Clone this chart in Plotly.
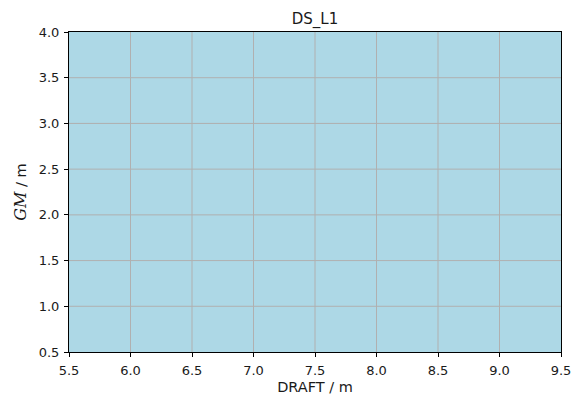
import plotly.graph_objects as go

# ---- data ----
title_text = "DS_L1"
draft = [5.5, 9.5]
gm_lower = [0.5, 0.5]
gm_upper = [4.0, 4.0]
x_ticks = [5.5, 6.0, 6.5, 7.0, 7.5, 8.0, 8.5, 9.0, 9.5]
y_ticks = [0.5, 1.0, 1.5, 2.0, 2.5, 3.0, 3.5, 4.0]
x_label = "DRAFT / m"
y_label = "<span style='font-family:DejaVu Serif;font-size:16px'><i>GM</i></span> / m"

FONT = "DejaVu Sans, sans-serif"
TXT = "#1a1a1a"
GRID = "#b0b0b0"
FILL = "#add8e6"

fig = go.Figure()
fig.add_trace(go.Scatter(x=draft, y=gm_lower, mode="lines", line=dict(width=0),
                         showlegend=False, hoverinfo="skip"))
fig.add_trace(go.Scatter(x=draft, y=gm_upper, mode="lines", line=dict(width=0),
                         fill="tonexty", fillcolor=FILL, showlegend=False, hoverinfo="skip"))

xr = [x_ticks[0], x_ticks[-1]]
yr = [y_ticks[0], y_ticks[-1]]

shapes = []
for v in x_ticks[1:-1]:
    shapes.append(dict(type="line", xref="x", yref="paper", x0=v, x1=v, y0=0, y1=1,
                       line=dict(color=GRID, width=1), layer="above"))
for v in y_ticks[1:-1]:
    shapes.append(dict(type="line", xref="paper", yref="y", x0=0, x1=1, y0=v, y1=v,
                       line=dict(color=GRID, width=1), layer="above"))

axis_common = dict(showgrid=False, zeroline=False, showline=True, linecolor="#000000",
                   linewidth=1, mirror=True, ticks="outside", ticklen=4, tickwidth=1,
                   tickcolor="#000000", automargin=False,
                   tickfont=dict(family=FONT, size=13, color=TXT))

fig.update_layout(
    width=575, height=396,
    margin=dict(l=69, r=14, t=32, b=44, autoexpand=False),
    paper_bgcolor="white", plot_bgcolor="white",
    title=dict(text=title_text, x=(69 + 561) / 2 / 575, xanchor="center",
               y=1 - 19 / 396, yanchor="middle", yref="container",
               font=dict(family=FONT, size=15, color=TXT)),
    xaxis=dict(range=xr, tickvals=x_ticks, ticktext=[f"{v:.1f}" for v in x_ticks],
               title=dict(text=x_label, standoff=5, font=dict(family=FONT, size=14.5, color=TXT)),
               ticklabelstandoff=2, **axis_common),
    yaxis=dict(range=yr, tickvals=y_ticks, ticktext=[f"{v:.1f}" for v in y_ticks],
               title=dict(text=y_label, standoff=8, font=dict(family=FONT, size=14.5, color=TXT)),
               ticklabelstandoff=2, **axis_common),
    shapes=shapes,
)

fig.write_html("out.html", config={"displayModeBar": False},
               post_script="document.body.style.margin='0';document.body.style.padding='0';")
